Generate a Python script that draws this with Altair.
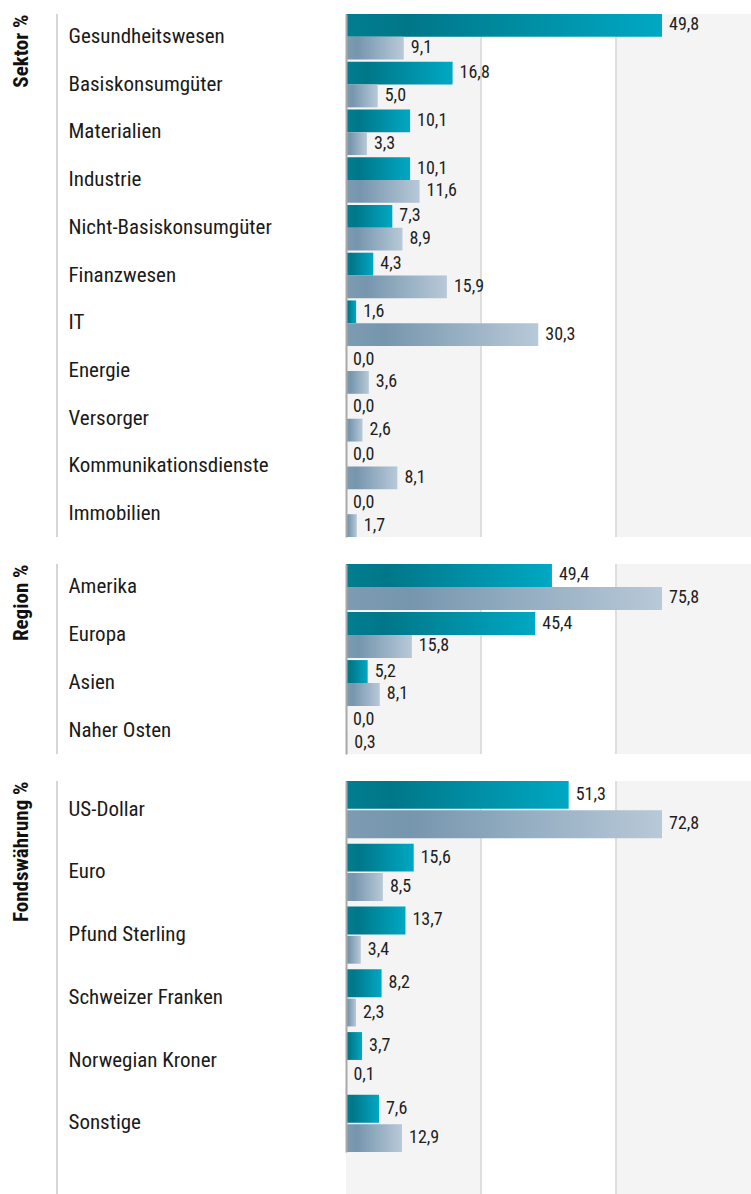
import altair as alt
import pandas as pd

# ---------------- data ----------------
sector_names = ["Gesundheitswesen", "Basiskonsumgüter", "Materialien", "Industrie",
                "Nicht-Basiskonsumgüter", "Finanzwesen", "IT", "Energie", "Versorger",
                "Kommunikationsdienste", "Immobilien"]
sector_fund = [49.8, 16.8, 10.1, 10.1, 7.3, 4.3, 1.6, 0.0, 0.0, 0.0, 0.0]
sector_index = [9.1, 5.0, 3.3, 11.6, 8.9, 15.9, 30.3, 3.6, 2.6, 8.1, 1.7]

region_names = ["Amerika", "Europa", "Asien", "Naher Osten"]
region_fund = [49.4, 45.4, 5.2, 0.0]
region_index = [75.8, 15.8, 8.1, 0.3]

currency_names = ["US-Dollar", "Euro", "Pfund Sterling", "Schweizer Franken",
                  "Norwegian Kroner", "Sonstige"]
currency_fund = [51.3, 15.6, 13.7, 8.2, 3.7, 7.6]
currency_index = [72.8, 8.5, 3.4, 2.3, 0.1, 12.9]

series_names = ["Fonds", "Index"]

# ---------------- styles ----------------
FONT = "Roboto Condensed, Liberation Sans Narrow, Roboto, sans-serif"
PLOT_W = 405

teal = alt.Gradient(
    gradient="linear", x1=0, x2=1, y1=0, y2=0,
    stops=[alt.GradientStop(color="#007e90", offset=0),
           alt.GradientStop(color="#007789", offset=0.2),
           alt.GradientStop(color="#00a8c3", offset=1)])
grey = alt.Gradient(
    gradient="linear", x1=0, x2=1, y1=0, y2=0,
    stops=[alt.GradientStop(color="#7d9cb2", offset=0),
           alt.GradientStop(color="#7696ae", offset=0.2),
           alt.GradientStop(color="#b8c9d8", offset=1)])


def panel(title, names, fund, index, height, band_range, pad_inner, sub_pad):
    rows = []
    for n, f, i in zip(names, fund, index):
        rows.append({"cat": n, "series": series_names[0], "value": f})
        rows.append({"cat": n, "series": series_names[1], "value": i})
    df = pd.DataFrame(rows)
    x_max = max(fund + index) * PLOT_W / 316.0

    yscale = alt.Scale(domain=names, paddingInner=pad_inner, paddingOuter=0,
                       range=[0, band_range])
    yaxis = alt.Axis(title=title, titleAnchor="start", titleAlign="right",
                     titleFont=FONT,
                     titleFontWeight="bold", titleFontSize=21, titleColor="#111111",
                     titlePadding=38, labelAlign="left", labelPadding=278,
                     labelFont=FONT, labelFontSize=21, labelColor="#1a1a1a",
                     labelLimit=320, ticks=False, domainColor="#a9a9a9",
                     domainWidth=2, minExtent=277, maxExtent=277, zindex=1)
    xscale = alt.Scale(domain=[0, x_max], nice=False, zero=True)
    offs = alt.YOffset("series:N", scale=alt.Scale(domain=series_names,
                                                     paddingInner=sub_pad,
                                                     paddingOuter=0))

    # background bands: thirds of the x range (grey / white / grey)
    bands = pd.DataFrame({"x0": [0, x_max / 3, 2 * x_max / 3],
                          "x1": [x_max / 3, 2 * x_max / 3, x_max],
                          "shade": ["g", "w", "g"]})
    bg = alt.Chart(bands).mark_rect(strokeWidth=0).encode(
        x=alt.X("x0:Q", scale=xscale, axis=None), x2="x1:Q",
        y=alt.value(0), y2=alt.value(height),
        fill=alt.Fill("shade:N", scale=alt.Scale(domain=["g", "w"],
                                                 range=["#f4f4f4", "#ffffff"]),
                      legend=None))
    grid = alt.Chart(bands.iloc[1:]).mark_rule(color="#dedede", strokeWidth=2).encode(
        x=alt.X("x0:Q", scale=xscale, axis=None), y=alt.value(0), y2=alt.value(height))
    one = alt.Data(values=[{"k": 0}])
    sep = alt.Chart(one).mark_rule(color="#d6d6d6", strokeWidth=2).encode(
        x=alt.value(-289), y=alt.value(0), y2=alt.value(height))

    base = alt.Chart(df).transform_calculate(
        label="replace(format(datum.value, '.1f'), '.', ',')")
    enc = dict(y=alt.Y("cat:N", scale=yscale, axis=yaxis, sort=names),
               yOffset=offs,
               x=alt.X("value:Q", scale=xscale, axis=None))

    bars_f = base.transform_filter(alt.datum.series == series_names[0]).mark_bar(
        fill=teal, strokeWidth=0).encode(**enc)
    bars_i = base.transform_filter(alt.datum.series == series_names[1]).mark_bar(
        fill=grey, strokeWidth=0).encode(**enc)
    texts = base.mark_text(align="left", baseline="middle", dx=7, font=FONT,
                           fontSize=18, color="#1e1e1e").encode(
        text="label:N", **enc)

    return alt.layer(bg, grid, sep, bars_f, bars_i, texts).properties(
        width=PLOT_W, height=height)


p1 = panel("Sektor %", sector_names, sector_fund, sector_index, 523, 523, 0.045, 0.0)
p2 = panel("Region %", region_names, region_fund, region_index, 190, 190, 0.045, 0.0)
p3 = panel("Fondswährung %", currency_names, currency_fund, currency_index, 440, 371, 0.09, 0.05)

chart = alt.vconcat(p1, p2, p3, spacing=27, bounds="flush").properties(
    padding={"left": 10, "top": 13, "right": 0, "bottom": 0}
).configure_view(strokeWidth=0).resolve_scale(
    x="independent", y="independent", yOffset="independent", fill="independent")

chart.save("out.html", embed_options={"renderer": "svg", "actions": False})
